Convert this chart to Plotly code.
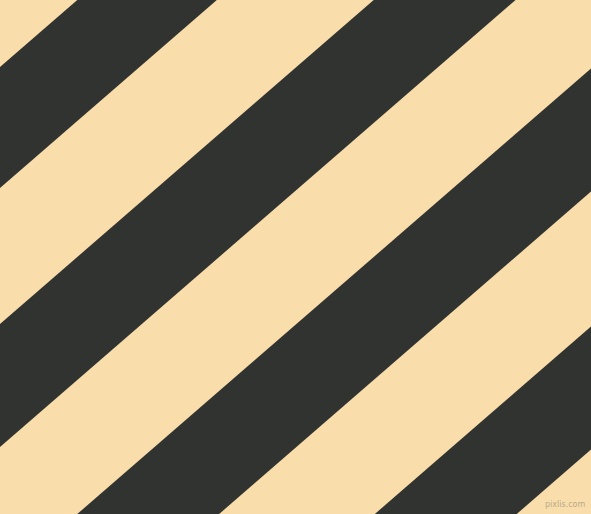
import plotly.graph_objects as go

WIDTH, HEIGHT = 591, 514
LIGHT = "#F9DDAA"
DARK = "#313330"

# dark stripes: where each edge meets the left border (y in px, from top)
stripe_top = [67, 324, 581, 839]
stripe_bottom = [188, 447, 704, 962]
slope = 0.867  # rise of the edges, px per px going right

fig = go.Figure()

x_left, x_right = -40, WIDTH + 40
for top, bottom in zip(stripe_top, stripe_bottom):
    xs = [x_left, x_right, x_right, x_left, x_left]
    ys = [top - slope * x_left, top - slope * x_right,
          bottom - slope * x_right, bottom - slope * x_left,
          top - slope * x_left]
    fig.add_trace(go.Scatter(
        x=xs, y=ys, mode="lines", fill="toself",
        fillcolor=DARK, line=dict(width=0, color=DARK),
        hoverinfo="skip", showlegend=False,
    ))

fig.add_annotation(
    x=1, y=0, xref="paper", yref="paper", xanchor="right", yanchor="bottom",
    xshift=-4, yshift=3, text="pixlis.com", showarrow=False,
    font=dict(family="DejaVu Sans", size=8, color="#B9A98C"),
)

fig.update_layout(
    width=WIDTH, height=HEIGHT,
    margin=dict(l=0, r=0, t=0, b=0),
    paper_bgcolor=LIGHT, plot_bgcolor=LIGHT,
    xaxis=dict(range=[0, WIDTH], visible=False, fixedrange=True),
    yaxis=dict(range=[HEIGHT, 0], visible=False, fixedrange=True),
)

# drop the default page margin so the figure fills the window
fig.write_html(
    "out.html",
    config={"displayModeBar": False},
    post_script="document.body.style.margin='0';document.body.style.overflow='hidden';",
)
